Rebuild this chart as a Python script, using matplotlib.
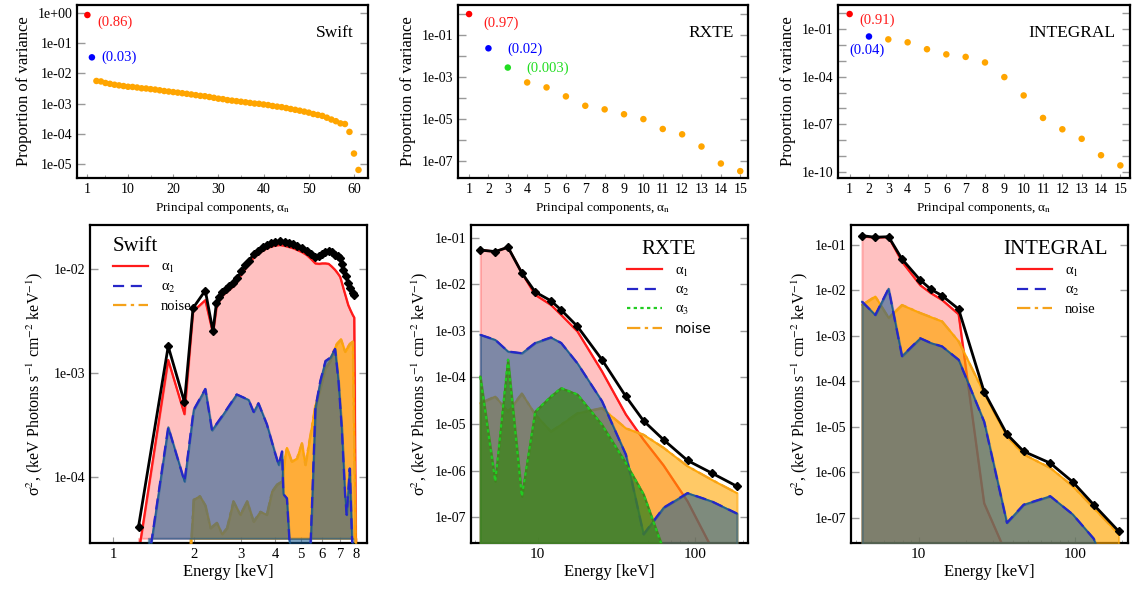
import numpy as np
import matplotlib
matplotlib.use('Agg')
import matplotlib.pyplot as plt
from matplotlib.ticker import FuncFormatter, FixedLocator, NullFormatter, NullLocator

plt.rcParams['font.family'] = ['Liberation Serif', 'DejaVu Serif']
plt.rcParams['mathtext.fontset'] = 'stix'

# ---------------- top row: proportion of variance ----------------
swift_var = [0.86, 0.034,
             5.6e-3, 5.4e-3, 4.8e-3, 4.5e-3, 4.2e-3, 4.0e-3, 3.8e-3, 3.6e-3, 3.55e-3, 3.4e-3,
             3.2e-3, 3.15e-3, 3.0e-3, 2.9e-3, 2.75e-3, 2.6e-3, 2.5e-3, 2.4e-3, 2.3e-3, 2.2e-3,
             2.1e-3, 2.0e-3, 1.9e-3, 1.8e-3, 1.75e-3, 1.65e-3, 1.55e-3, 1.45e-3, 1.4e-3, 1.3e-3,
             1.25e-3, 1.2e-3, 1.15e-3, 1.1e-3, 1.05e-3, 1.0e-3, 9.8e-4, 9.3e-4, 8.9e-4, 8.3e-4,
             7.9e-4, 7.6e-4, 7.1e-4, 6.6e-4, 6.2e-4, 5.8e-4, 5.4e-4, 5.0e-4, 4.5e-4, 4.2e-4,
             3.9e-4, 3.4e-4, 2.95e-4, 2.6e-4, 2.2e-4, 2.1e-4, 1.15e-4, 2.2e-5, 6.3e-6]
rxte_var = [0.97, 0.023, 2.8e-3, 5.5e-4, 3.2e-4, 1.2e-4, 4.3e-5, 2.9e-5, 1.7e-5, 1.0e-5,
            3.4e-6, 1.9e-6, 5.0e-7, 7.8e-8, 3.4e-8]
integral_var = [0.92, 0.035, 0.023, 0.015, 5.5e-3, 2.6e-3, 1.8e-3, 8.0e-4, 9.5e-5, 6.6e-6,
                2.5e-7, 4.8e-8, 1.2e-8, 1.1e-9, 2.5e-10]

# ---------------- bottom row: Swift ----------------
swift_e = [1.24, 1.60, 1.84, 1.98, 2.20, 2.35, 2.42, 2.48, 2.54, 2.62, 2.70, 2.80, 2.90, 3.00,
           3.10, 3.20, 3.33, 3.45, 3.60, 3.73, 3.85, 4.00, 4.18, 4.35, 4.50, 4.69, 4.85, 5.05,
           5.26, 5.45, 5.66, 5.85, 6.00, 6.17, 6.34, 6.50, 6.70, 6.85, 7.00, 7.10, 7.20, 7.35,
           7.50, 7.65, 7.80, 7.90]
swift_tot = [3.3e-5, 1.8e-3, 5.2e-4, 4.2e-3, 6.2e-3, 2.5e-3, 4.7e-3, 5.4e-3, 6.0e-3, 6.4e-3,
             6.8e-3, 7.3e-3, 8.2e-3, 9.6e-3, 1.08e-2, 1.2e-2, 1.38e-2, 1.5e-2, 1.62e-2, 1.7e-2,
             1.76e-2, 1.82e-2, 1.86e-2, 1.82e-2, 1.78e-2, 1.72e-2, 1.65e-2, 1.58e-2, 1.5e-2,
             1.4e-2, 1.3e-2, 1.33e-2, 1.4e-2, 1.45e-2, 1.5e-2, 1.45e-2, 1.36e-2, 1.32e-2,
             1.27e-2, 1.12e-2, 9.8e-3, 8.5e-3, 7.3e-3, 6.5e-3, 5.9e-3, 5.6e-3]
swift_a1_e = swift_e + [8.02]
swift_a1 = [1.8e-5, 1.33e-3, 4.0e-4, 3.9e-3, 5.0e-3, 2.4e-3, 4.2e-3, 4.9e-3, 5.5e-3, 5.9e-3,
            6.3e-3, 6.8e-3, 7.6e-3, 8.9e-3, 1.0e-2, 1.12e-2, 1.28e-2, 1.4e-2, 1.5e-2, 1.58e-2,
            1.63e-2, 1.68e-2, 1.7e-2, 1.67e-2, 1.63e-2, 1.58e-2, 1.52e-2, 1.45e-2, 1.36e-2,
            1.25e-2, 1.13e-2, 1.12e-2, 1.13e-2, 1.13e-2, 1.12e-2, 1.06e-2, 9.8e-3, 9.1e-3,
            8.4e-3, 7.4e-3, 6.5e-3, 5.4e-3, 4.5e-3, 4.0e-3, 3.6e-3, 3.4e-3, 1.0e-5]
swift_a2_e = [1.35, 1.60, 1.84, 1.99, 2.20, 2.33, 2.57, 2.88, 3.19, 3.33, 3.47, 3.73, 4.00,
              4.13, 4.25, 4.30, 4.43, 4.58, 5.40, 5.66, 5.90, 6.17, 6.43, 6.70, 6.90, 7.10,
              7.30, 7.40, 7.60, 7.80]
swift_a2 = [1.5e-5, 3.0e-4, 9.0e-5, 4.4e-4, 7.0e-4, 2.8e-4, 4.0e-4, 6.2e-4, 5.5e-4, 4.2e-4,
            5.1e-4, 3.2e-4, 1.7e-4, 1.3e-4, 1.75e-4, 6.8e-5, 6.2e-5, 1.5e-5, 1.5e-5, 4.6e-4,
            8.3e-4, 1.3e-3, 1.4e-3, 1.7e-3, 8.3e-4, 2.9e-4, 6.8e-5, 4.3e-5, 1.2e-4, 1.5e-5]
swift_noise_e = [1.93, 1.99, 2.10, 2.20, 2.30, 2.43, 2.54, 2.65, 2.80, 2.97, 3.15, 3.33, 3.53,
                 3.73, 3.90, 4.07, 4.25, 4.37, 4.43, 4.62, 4.83, 5.04, 5.19, 5.42, 5.66, 5.90,
                 6.17, 6.43, 6.60, 6.80, 7.05, 7.30, 7.60, 7.80, 8.00]
swift_noise = [1.5e-5, 6.0e-5, 6.5e-5, 5.3e-5, 3.2e-5, 3.6e-5, 2.8e-5, 3.2e-5, 5.8e-5, 4.3e-5,
               5.8e-5, 3.7e-5, 4.6e-5, 4.3e-5, 7.2e-5, 8.4e-5, 9.0e-5, 1.6e-4, 1.9e-4, 1.4e-4,
               1.5e-4, 2.1e-4, 1.3e-4, 2.5e-4, 4.9e-4, 7.0e-4, 1.1e-3, 1.3e-3, 1.6e-3, 1.9e-3,
               2.1e-3, 1.6e-3, 1.9e-3, 2.0e-3, 1.5e-5]

# ---------------- bottom row: RXTE ----------------
rxte_e = [4.33, 5.39, 6.49, 7.95, 9.66, 12.15, 14.1, 17.9, 25.6, 36.3, 47.0, 62.9, 89.3, 127.0, 184.0]
rxte_tot = [0.054, 0.050, 0.062, 0.0174, 6.8e-3, 4.4e-3, 2.8e-3, 1.24e-3, 2.4e-4, 3.9e-5,
            1.17e-5, 4.6e-6, 1.65e-6, 8.9e-7, 4.6e-7]
rxte_a1 = [0.054, 0.050, 0.062, 0.0174, 5.9e-3, 3.6e-3, 2.2e-3, 9.7e-4, 1.35e-4, 1.6e-5,
           4.6e-6, 1.3e-6, 2.2e-7, 2.2e-8, 1.5e-9]
rxte_a2 = [8.2e-4, 6.4e-4, 3.6e-4, 3.3e-4, 5.5e-4, 7.2e-4, 5.5e-4, 2.0e-4, 3.1e-5, 2.2e-6,
           4.3e-8, 1.6e-7, 3.3e-7, 2.2e-7, 1.2e-7]
rxte_a3 = [1.05e-4, 5.9e-7, 2.4e-4, 2.8e-7, 1.85e-5, 3.9e-5, 5.9e-5, 4.3e-5, 9.7e-6, 1.45e-6,
           3.1e-7, 2.0e-8, 1e-9, 1e-9, 1e-9]
rxte_noise = [2.8e-5, 3.9e-5, 1.85e-5, 4.5e-5, 1.6e-5, 6.9e-6, 9.7e-6, 1.7e-5, 2.2e-5, 8.1e-6,
              5.9e-6, 3.1e-6, 1.25e-6, 6.4e-7, 3.3e-7]

# ---------------- bottom row: INTEGRAL ----------------
integral_e = [4.35, 5.29, 6.43, 7.83, 10.25, 11.99, 14.1, 18.0, 26.2, 36.6, 46.8, 69.2, 96.2, 131.0, 189.0]
integral_tot = [0.16, 0.148, 0.152, 0.049, 0.0168, 0.0106, 7.7e-3, 3.9e-3, 5.9e-5, 6.9e-6,
                2.9e-6, 1.6e-6, 6.2e-7, 1.95e-7, 5.1e-8]
integral_a1 = [0.155, 0.145, 0.15, 0.043, 0.013, 8.7e-3, 6.2e-3, 3.0e-3, 2.1e-7, 1.5e-8,
               1e-9, 1e-9, 1e-9, 1e-9, 1e-9]
integral_a2 = [5.7e-3, 2.9e-3, 0.011, 3.6e-4, 8.9e-4, 7.0e-4, 5.9e-4, 3.0e-4, 1.3e-5, 7.8e-8,
               1.95e-7, 3.0e-7, 1.2e-7, 3.5e-8, 1e-9]
integral_noise = [4.8e-3, 7.4e-3, 2.5e-3, 4.8e-3, 3.2e-3, 2.6e-3, 2.1e-3, 7.6e-4, 5.5e-5, 6.2e-6,
                  2.5e-6, 1.26e-6, 5.0e-7, 1.66e-7, 4.4e-8]

RED = '#ff1a1a'
BLUE_LINE = '#2626c8'
BLUE_FILL = (0.08, 0.35, 0.57)
ORANGE = '#ffa500'
GREEN = (0.25, 0.52, 0.12)
ORANGE_C = '#f5a21a'

sci = FuncFormatter(lambda v, p: '%.0e' % v)

fig = plt.figure(figsize=(11.34, 5.93), dpi=100)


def style_axes(ax, xsize=10):
    for s in ax.spines.values():
        s.set_linewidth(1.6)
    ax.tick_params(axis='y', which='major', direction='in', length=6, width=1,
                   color='#999999', left=True, right=True, labelsize=10)
    ax.tick_params(axis='y', which='minor', left=False, right=False)
    ax.tick_params(axis='x', which='both', direction='in', color='#999999', labelsize=xsize)


# ---------- top panels ----------
top_pos = [[0.0679, 0.6998, 0.2566, 0.2917],
           [0.4039, 0.6998, 0.2557, 0.2917],
           [0.7390, 0.6998, 0.2575, 0.2917]]
tops = [swift_var, rxte_var, integral_var]
names = ['Swift', 'RXTE', 'INTEGRAL']
ylims = [(3.4e-6, 1.84), (1.6e-8, 2.6), (4e-11, 3.4)]
xlims = [(-1.3, 63.1), (0.43, 15.4), (0.4, 15.5)]
yticks = [[1e0, 1e-1, 1e-2, 1e-3, 1e-4, 1e-5],
          [1e-1, 1e-3, 1e-5, 1e-7],
          [1e-1, 1e-4, 1e-7, 1e-10]]
annots = [[('(0.86)', 3.1, 0.5, RED), ('(0.03)', 4.2, 0.035, 'blue')],
          [('(0.97)', 1.75, 0.35, RED), ('(0.02)', 3.0, 0.021, 'blue'), ('(0.003)', 3.95, 0.0026, '#22dd22')],
          [('(0.91)', 1.5, 0.39, RED), ('(0.04)', 1.0, 4.5e-3, 'blue')]]

for i in range(3):
    ax = fig.add_axes(top_pos[i])
    vals = tops[i]
    pcs = np.arange(1, len(vals) + 1)
    cols = [ORANGE] * len(vals)
    cols[0] = 'red'
    cols[1] = 'blue'
    if names[i] == 'RXTE':
        cols[2] = '#22dd22'
    ax.scatter(pcs, vals, s=22, c=cols, edgecolors='none', zorder=3)
    ax.set_yscale('log')
    ax.set_ylim(*ylims[i])
    ax.set_xlim(*xlims[i])
    ax.yaxis.set_major_locator(FixedLocator(yticks[i]))
    ax.yaxis.set_major_formatter(sci)
    if i == 0:
        ax.set_xticks([1, 10, 20, 30, 40, 50, 60])
        ax.set_xticks([5, 15, 25, 35, 45, 55], minor=True)
    else:
        ax.set_xticks(np.arange(1, 16))
        ax.xaxis.set_minor_locator(NullLocator())
    style_axes(ax)
    if i > 0:
        # unlabeled ticks at every decade
        dec = np.log10(ylims[i])
        ax.yaxis.set_minor_locator(FixedLocator(10.0 ** np.arange(np.ceil(dec[0]), np.floor(dec[1]) + 1)))
        ax.yaxis.set_minor_formatter(NullFormatter())
        ax.tick_params(axis='y', which='minor', direction='in', length=6, width=1,
                       color='#999999', left=True, right=True)
    ax.tick_params(axis='x', which='major', length=3)
    ax.tick_params(axis='x', which='minor', length=2)
    ax.set_ylabel('Proportion of variance', fontsize=12, labelpad=4)
    ax.set_xlabel(r'Principal components, α$_{\rm n}$', fontsize=9.5, labelpad=3)
    ax.text(0.95, 0.84, names[i], transform=ax.transAxes, ha='right', va='center', fontsize=12.5)
    for t, x, y, c in annots[i]:
        ax.text(x, y, t, color=c, fontsize=10.5, va='center', ha='left')

# ---------- bottom panels ----------
bot_pos = [[0.0794, 0.0843, 0.2443, 0.5363],
           [0.4153, 0.0843, 0.2443, 0.5363],
           [0.7504, 0.0843, 0.2443, 0.5363]]
floor = 2.6e-8


def spectrum(ax, e_tot, tot, comps, ymin):
    # comps: (energies, values, line colour, fill colour, fill alpha, linestyle, label, z)
    handles = []
    for e, v, lc, fc, fa, ls, lab, z in comps:
        ax.fill_between(e, v, ymin, color=fc, alpha=fa, lw=1.5, zorder=z)
        ax.plot(e, v, color=fc, alpha=min(1, fa + 0.3), lw=1.2, zorder=z + 0.1)
        h, = ax.plot(e, v, color=lc, ls=ls, lw=1.6, label=lab, zorder=z + 0.2)
        handles.append(h)
    ax.plot(e_tot, tot, color='black', lw=2, marker='D', ms=4, zorder=7)
    return handles


legend_kw = dict(frameon=False, fontsize=10.5, title_fontsize=15, handlelength=2.4,
                 handletextpad=0.9, borderaxespad=0.2, labelspacing=0.35)

# Swift
ax = fig.add_axes(bot_pos[0])
ax.set_xscale('log')
ax.set_yscale('log')
h = spectrum(ax, swift_e, swift_tot, [
    (swift_a1_e, swift_a1, RED, RED, 0.27, '-', r'α$_1$', 2),
    (swift_noise_e, swift_noise, ORANGE_C, ORANGE, 0.7, (0, (6, 2, 1.5, 2)), 'noise', 3),
    (swift_a2_e, swift_a2, BLUE_LINE, BLUE_FILL, 0.55, (0, (5, 3)), r'α$_2$', 4),
], 2.55e-5)
ax.set_xlim(0.818, 8.82)
ax.set_ylim(2.3e-5, 0.0265)
ax.xaxis.set_major_locator(FixedLocator([1, 2, 3, 4, 5, 6, 7, 8]))
ax.xaxis.set_major_formatter(FuncFormatter(lambda v, p: '%d' % round(v)))
ax.xaxis.set_minor_locator(NullLocator())
ax.yaxis.set_major_locator(FixedLocator([1e-2, 1e-3, 1e-4]))
ax.yaxis.set_major_formatter(sci)
ax.yaxis.set_minor_locator(NullLocator())
style_axes(ax, 10.5)
ax.tick_params(axis='x', which='major', length=4)
leg = ax.legend([h[0], h[2], h[1]], [r'α$_1$', r'α$_2$', 'noise'], title='Swift',
                loc='upper left', bbox_to_anchor=(0.05, 0.99), **legend_kw)
leg._legend_box.align = 'left'
ax.set_xlabel('Energy [keV]', fontsize=12, labelpad=2)
ax.set_ylabel(r'σ$^2$, (keV Photons s$^{-1}$ cm$^{-2}$ keV$^{-1}$)', fontsize=11.5, labelpad=6)

# RXTE
ax = fig.add_axes(bot_pos[1])
ax.set_xscale('log')
ax.set_yscale('log')
h = spectrum(ax, rxte_e, rxte_tot, [
    (rxte_e, rxte_a1, RED, RED, 0.27, '-', r'α$_1$', 2),
    (rxte_e, rxte_noise, ORANGE_C, ORANGE, 0.6, (0, (6, 2, 1.5, 2)), 'noise', 3),
    (rxte_e, rxte_a2, BLUE_LINE, BLUE_FILL, 0.55, (0, (5, 3)), r'α$_2$', 4),
    (rxte_e, rxte_a3, '#22cc22', GREEN, 0.8, (0, (1.5, 1.5)), r'α$_3$', 5),
], floor)
ax.set_xlim(3.78, 216)
ax.set_ylim(2.8e-8, 0.186)
ax.yaxis.set_major_locator(FixedLocator([1e-1, 1e-2, 1e-3, 1e-4, 1e-5, 1e-6, 1e-7]))
ax.yaxis.set_major_formatter(sci)
ax.yaxis.set_minor_locator(NullLocator())
ax.xaxis.set_major_formatter(FuncFormatter(lambda v, p: '%d' % round(v)))
style_axes(ax, 11)
ax.tick_params(axis='x', which='major', length=4)
ax.tick_params(axis='x', which='minor', length=2.5)
leg = ax.legend([h[0], h[2], h[3], h[1]], [r'α$_1$', r'α$_2$', r'α$_3$', 'noise'], title='RXTE',
                loc='upper right', bbox_to_anchor=(0.9, 0.98), **legend_kw)
leg.get_texts()[3].set_family('DejaVu Sans')
leg.get_texts()[3].set_fontsize(10)
ax.set_xlabel('Energy [keV]', fontsize=12, labelpad=2)
ax.set_ylabel(r'σ$^2$, (keV Photons s$^{-1}$ cm$^{-2}$ keV$^{-1}$)', fontsize=11.5, labelpad=3)

# INTEGRAL
ax = fig.add_axes(bot_pos[2])
ax.set_xscale('log')
ax.set_yscale('log')
h = spectrum(ax, integral_e, integral_tot, [
    (integral_e, integral_a1, RED, RED, 0.27, '-', r'α$_1$', 2),
    (integral_e, integral_noise, ORANGE_C, ORANGE, 0.65, (0, (6, 2, 1.5, 2)), 'noise', 3),
    (integral_e, integral_a2, BLUE_LINE, BLUE_FILL, 0.55, (0, (5, 3)), r'α$_2$', 4),
], floor)
ax.set_xlim(3.70, 217)
ax.set_ylim(2.8e-8, 0.275)
ax.yaxis.set_major_locator(FixedLocator([1e-1, 1e-2, 1e-3, 1e-4, 1e-5, 1e-6, 1e-7]))
ax.yaxis.set_major_formatter(sci)
ax.yaxis.set_minor_locator(NullLocator())
ax.xaxis.set_major_formatter(FuncFormatter(lambda v, p: '%d' % round(v)))
style_axes(ax, 11)
ax.tick_params(axis='x', which='major', length=4)
ax.tick_params(axis='x', which='minor', length=2.5)
leg = ax.legend([h[0], h[2], h[1]], [r'α$_1$', r'α$_2$', 'noise'], title='INTEGRAL',
                loc='upper right', bbox_to_anchor=(0.96, 0.98), **legend_kw)
ax.set_xlabel('Energy [keV]', fontsize=12, labelpad=2)
ax.set_ylabel(r'σ$^2$, (keV Photons s$^{-1}$ cm$^{-2}$ keV$^{-1}$)', fontsize=11.5, labelpad=3)

fig.savefig('out.png', dpi=100)
